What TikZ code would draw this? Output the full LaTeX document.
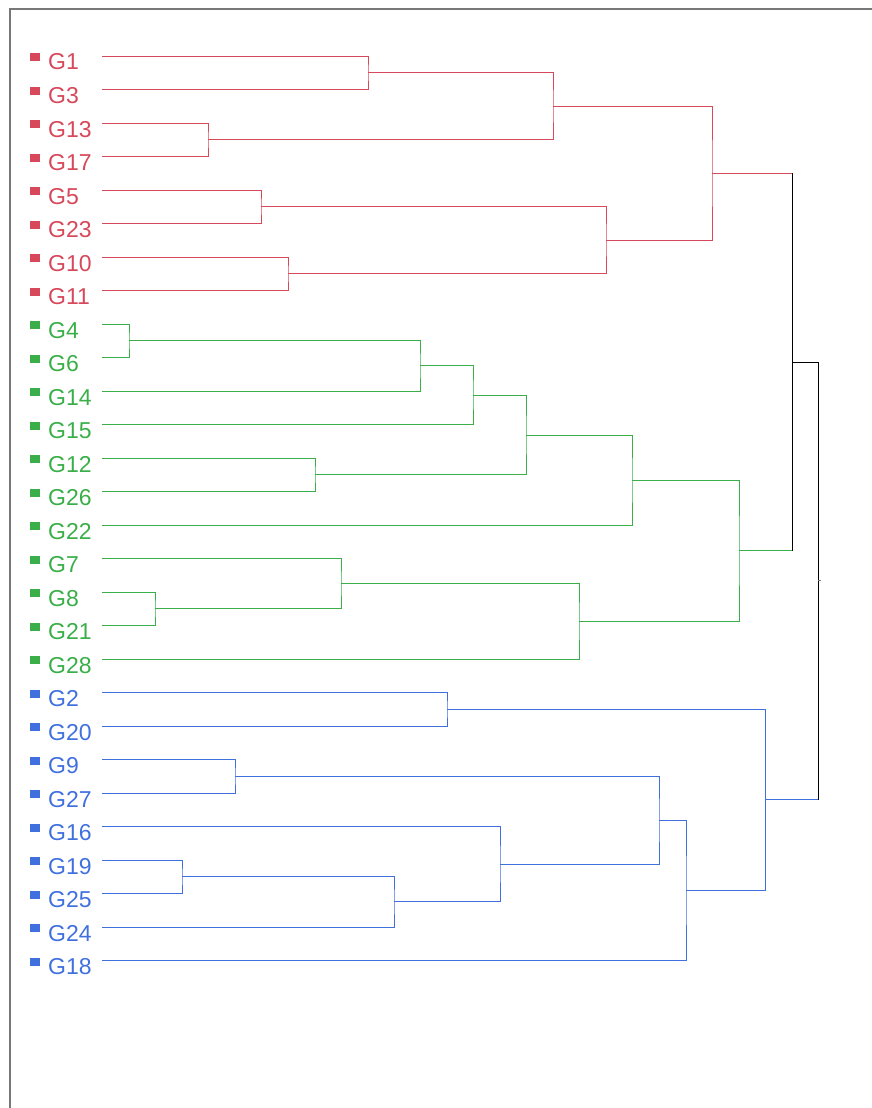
\documentclass[tikz,border=0pt]{standalone}
\usepackage{fontspec}
\setmainfont{Liberation Sans}
\usetikzlibrary{calc}
\definecolor{cr}{HTML}{D6485A}
\definecolor{cg}{HTML}{3AAE48}
\definecolor{cb}{HTML}{4070DE}
\definecolor{framec}{HTML}{787878}
\newcommand\mrg[4]{\path let \p1 = ($(#3)!0.5!(#4)$) in coordinate (#1) at (#2pt,\y1);}
\newcommand\lnk[4]{\draw[branch,#4] (#2) -| (#1) |- (#3);}
\begin{document}
\begin{tikzpicture}[x=1pt,y=-1pt,
  lab/.style={anchor=base west, inner sep=0pt, font=\fontsize{23}{23}\selectfont},
  branch/.style={line width=0.8pt},
  topline/.style={line width=0.9pt, black}]
\useasboundingbox (0,0) rectangle (872,1108);
\draw[framec, line width=1.4pt] (10,1112) -- (10,9) -- (876,9);
\foreach \n/\c [count=\i from 0] in {1/cr,3/cr,13/cr,17/cr,5/cr,23/cr,10/cr,11/cr,
  4/cg,6/cg,14/cg,15/cg,12/cg,26/cg,22/cg,7/cg,8/cg,21/cg,28/cg,
  2/cb,20/cb,9/cb,27/cb,16/cb,19/cb,25/cb,24/cb,18/cb} {
  \coordinate (L\n) at (102, 56+33.5*\i);
  \fill[\c] (30, 53+33.5*\i) rectangle (40, 61+33.5*\i);
  \node[lab, text=\c] (T\n) at (48, 70+33.5*\i) {G\n};
}
% red cluster
\mrg{r1}{368}{L1}{L3}
\mrg{r2}{208}{L13}{L17}
\mrg{r3}{553}{r1}{r2}
\mrg{r4}{261}{L5}{L23}
\mrg{r5}{288}{L10}{L11}
\mrg{r6}{606}{r4}{r5}
\mrg{r7}{712}{r3}{r6}
% green cluster
\mrg{g1}{129}{L4}{L6}
\mrg{g2}{420}{g1}{L14}
\mrg{g3}{473}{g2}{L15}
\mrg{g4}{315}{L12}{L26}
\mrg{g5}{526}{g3}{g4}
\mrg{g6}{632}{g5}{L22}
\mrg{g7}{155}{L8}{L21}
\mrg{g8}{341}{L7}{g7}
\mrg{g9}{579}{g8}{L28}
\mrg{g10}{739}{g6}{g9}
% blue cluster
\mrg{b1}{447}{L2}{L20}
\mrg{b2}{235}{L9}{L27}
\mrg{b3}{182}{L19}{L25}
\mrg{b4}{394}{b3}{L24}
\mrg{b5}{500}{L16}{b4}
\mrg{b6}{659}{b2}{b5}
\mrg{b7}{686}{b6}{L18}
\mrg{b8}{765}{b1}{b7}
% top
\mrg{t1}{792}{r7}{g10}
\mrg{t2}{818}{t1}{b8}

\lnk{r1}{L1}{L3}{cr}
\lnk{r2}{L13}{L17}{cr}
\lnk{r3}{r1}{r2}{cr}
\lnk{r4}{L5}{L23}{cr}
\lnk{r5}{L10}{L11}{cr}
\lnk{r6}{r4}{r5}{cr}
\lnk{r7}{r3}{r6}{cr}

\lnk{g1}{L4}{L6}{cg}
\lnk{g2}{g1}{L14}{cg}
\lnk{g3}{g2}{L15}{cg}
\lnk{g4}{L12}{L26}{cg}
\lnk{g5}{g3}{g4}{cg}
\lnk{g6}{g5}{L22}{cg}
\lnk{g7}{L8}{L21}{cg}
\lnk{g8}{L7}{g7}{cg}
\lnk{g9}{g8}{L28}{cg}
\lnk{g10}{g6}{g9}{cg}

\lnk{b1}{L2}{L20}{cb}
\lnk{b2}{L9}{L27}{cb}
\lnk{b3}{L19}{L25}{cb}
\lnk{b4}{b3}{L24}{cb}
\lnk{b5}{L16}{b4}{cb}
\lnk{b6}{b2}{b5}{cb}
\lnk{b7}{b6}{L18}{cb}
\lnk{b8}{b1}{b7}{cb}

\draw[branch,cr] (r7) -- (r7 -| t1);
\draw[branch,cg] (g10) -- (g10 -| t1);
\draw[topline] (r7 -| t1) -- (g10 -| t1);
\draw[topline] (t1) -- (t1 -| t2);
\draw[branch,cb] (b8) -- (b8 -| t2);
\draw[topline] (t1 -| t2) -- (b8 -| t2);
\draw[line width=1pt, framec] (t2) -- ++(3,0);
\end{tikzpicture}
\end{document}
